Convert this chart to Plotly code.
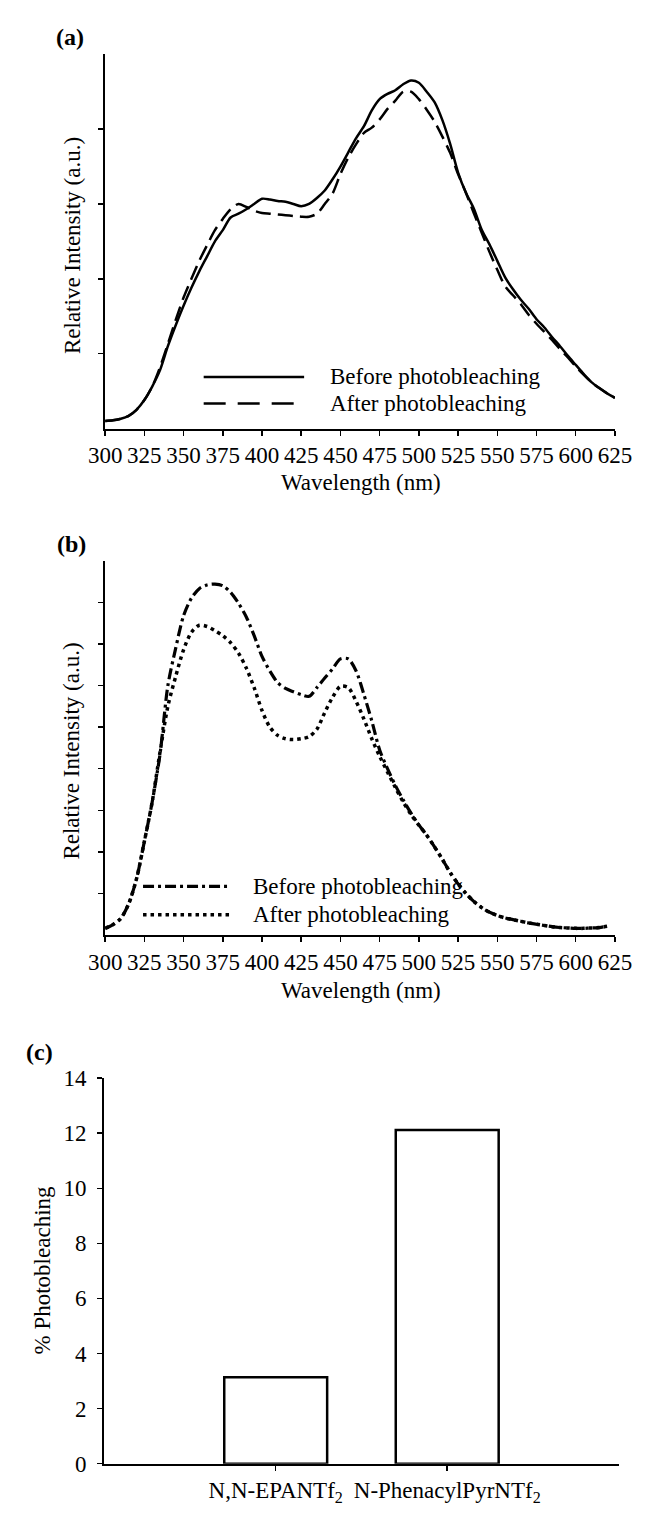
import plotly.graph_objects as go

W, H = 649, 1516
FONT = "Liberation Serif"
FS = 23

# ---------------- data ----------------
wl_a = list(range(300, 630, 5))  # 300..625
a_before = [0.10, 0.11, 0.13, 0.17, 0.25, 0.38, 0.56, 0.78, 1.10, 1.38,
            1.64, 1.88, 2.10, 2.30, 2.50, 2.65, 2.82, 2.87, 2.93, 3.00,
            3.07, 3.06, 3.04, 3.03, 3.00, 2.97, 3.00, 3.08, 3.18, 3.33,
            3.50, 3.69, 3.88, 4.04, 4.25, 4.40, 4.47, 4.52, 4.60, 4.65,
            4.62, 4.50, 4.36, 4.12, 3.80, 3.42, 3.15, 2.94, 2.66, 2.46,
            2.24, 2.02, 1.86, 1.72, 1.60, 1.46, 1.35, 1.22, 1.10, 0.97,
            0.85, 0.73, 0.62, 0.54, 0.47, 0.41]
a_after = [0.10, 0.11, 0.13, 0.17, 0.25, 0.38, 0.56, 0.82, 1.13, 1.45,
           1.75, 2.00, 2.24, 2.45, 2.65, 2.80, 2.93, 3.00, 2.96, 2.91,
           2.88, 2.87, 2.86, 2.85, 2.84, 2.83, 2.83, 2.87, 3.00, 3.14,
           3.40, 3.62, 3.80, 3.95, 4.02, 4.13, 4.27, 4.38, 4.50, 4.50,
           4.40, 4.26, 4.10, 3.90, 3.68, 3.40, 3.15, 2.88, 2.62, 2.36,
           2.12, 1.90, 1.78, 1.66, 1.52, 1.40, 1.29, 1.18, 1.06, 0.95,
           0.83, 0.72, 0.62, 0.54, 0.47, 0.41]

wl_b = list(range(300, 625, 5))  # 300..620
b_before = [0.16, 0.25, 0.40, 0.75, 1.35, 2.25, 3.20, 4.35, 6.00, 6.90,
            7.68, 8.10, 8.33, 8.42, 8.44, 8.40, 8.24, 7.98, 7.65, 7.20,
            6.70, 6.35, 6.07, 5.93, 5.85, 5.78, 5.74, 5.95, 6.18, 6.40,
            6.64, 6.64, 6.35, 5.78, 5.15, 4.45, 4.00, 3.60, 3.25, 2.93,
            2.65, 2.40, 2.12, 1.82, 1.50, 1.23, 1.00, 0.81, 0.66, 0.55,
            0.47, 0.41, 0.37, 0.33, 0.29, 0.26, 0.23, 0.20, 0.18, 0.17,
            0.16, 0.16, 0.17, 0.18, 0.21]
b_after = [0.16, 0.25, 0.40, 0.75, 1.35, 2.25, 3.20, 4.40, 5.50, 6.22,
           6.86, 7.28, 7.45, 7.42, 7.32, 7.20, 7.03, 6.78, 6.42, 5.95,
           5.40, 5.00, 4.80, 4.72, 4.70, 4.72, 4.77, 4.95, 5.35, 5.72,
           5.98, 5.95, 5.62, 5.19, 4.72, 4.30, 3.92, 3.55, 3.20, 2.90,
           2.64, 2.40, 2.12, 1.82, 1.50, 1.23, 1.00, 0.81, 0.66, 0.55,
           0.47, 0.41, 0.37, 0.33, 0.29, 0.26, 0.23, 0.20, 0.18, 0.17,
           0.16, 0.16, 0.17, 0.18, 0.21]

c_categories = ["N,N-EPANTf<sub>2</sub>", "N-PhenacylPyrNTf<sub>2</sub>"]
c_positions = [1, 2]
c_values = [3.14, 12.12]

wl_ticks = list(range(300, 650, 25))
legend_names = ["Before photobleaching", "After photobleaching"]

# ---------------- helpers ----------------
def px(x):
    return x / W

def py(y):
    return 1 - y / H

DASH_A = "15px,7px"
DASHDOT_B = "11px,4px,3px,4px"
DOT_B = "3.5px,4px"

fig = go.Figure()

fig.add_trace(go.Scatter(x=wl_a, y=a_before, mode="lines", xaxis="x", yaxis="y",
                         name=legend_names[0],
                         line=dict(color="black", width=2.5, shape="spline", smoothing=0.8),
                         showlegend=False))
fig.add_trace(go.Scatter(x=wl_a, y=a_after, mode="lines", xaxis="x", yaxis="y",
                         name=legend_names[1],
                         line=dict(color="black", width=2.5, dash=DASH_A, shape="spline", smoothing=0.8),
                         showlegend=False))
fig.add_trace(go.Scatter(x=wl_b, y=b_before, mode="lines", xaxis="x2", yaxis="y2",
                         name=legend_names[0],
                         line=dict(color="black", width=3.2, dash=DASHDOT_B, shape="spline", smoothing=0.8),
                         showlegend=False))
fig.add_trace(go.Scatter(x=wl_b, y=b_after, mode="lines", xaxis="x2", yaxis="y2",
                         name=legend_names[1],
                         line=dict(color="black", width=3.5, dash=DOT_B, shape="spline", smoothing=0.8),
                         showlegend=False))
fig.add_trace(go.Bar(x=c_positions, y=c_values, width=0.6, xaxis="x3", yaxis="y3",
                     marker=dict(color="white", line=dict(color="black", width=2.5)),
                     showlegend=False))

axis_common = dict(showline=True, linecolor="black", linewidth=2, showgrid=False,
                   zeroline=False, ticks="outside", tickcolor="black", tickwidth=1.5,
                   ticklen=5, tickfont=dict(family=FONT, size=FS, color="black"))

fig.update_layout(
    xaxis=dict(domain=[px(93), px(631)], range=[300, 625], tickvals=wl_ticks,
               anchor="y", **axis_common),
    yaxis=dict(domain=[py(423.5), py(43)], range=[0, 5], tickvals=[1, 2, 3, 4],
               showticklabels=False, anchor="x", **axis_common),
    xaxis2=dict(domain=[px(93), px(631)], range=[300, 625], tickvals=wl_ticks,
                anchor="y2", **axis_common),
    yaxis2=dict(domain=[py(938.5), py(558)], range=[0, 9], tickvals=list(range(1, 9)),
                showticklabels=False, anchor="x2", **axis_common),
    xaxis3=dict(domain=[px(92), px(635)], range=[0, 3], tickvals=c_positions,
                ticktext=c_categories, anchor="y3", **axis_common),
    yaxis3=dict(domain=[py(1476), py(1084)], range=[0, 14], tickvals=list(range(0, 16, 2)),
                anchor="x3", ticklabelstandoff=6, **axis_common),
)

annotations = []

def ann(text, x, y, angle=0, xanchor="center", bold=False, size=FS):
    f = dict(family=FONT, size=size, color="black")
    annotations.append(dict(text=("<b>%s</b>" % text) if bold else text,
                            x=px(x), y=py(y), xref="paper", yref="paper",
                            showarrow=False, textangle=angle, xanchor=xanchor,
                            yanchor="middle", font=f))

ann("(a)", 56, 25, bold=True, size=24)
ann("(b)", 58, 541, bold=True, size=24)
ann("(c)", 24, 1057, bold=True, size=24)
ann("Wavelength (nm)", 363, 478)
ann("Wavelength (nm)", 363, 995)
ann("Relative Intensity (a.u.)", 58, 237, angle=-90)
ann("Relative Intensity (a.u.)", 58, 751, angle=-90)
ann("% Photobleaching", 27, 1280, angle=-90)

# legends (drawn samples + labels)
ann(legend_names[0], 328, 371, xanchor="left")
ann(legend_names[1], 328, 398, xanchor="left")
ann(legend_names[0], 247, 889, xanchor="left")
ann(legend_names[1], 247, 918, xanchor="left")

shapes = [
    dict(type="line", xref="paper", yref="paper", x0=px(197), x1=px(303), y0=py(371), y1=py(371),
         line=dict(color="black", width=2.5)),
    dict(type="line", xref="paper", yref="paper", x0=px(197), x1=px(295), y0=py(398), y1=py(398),
         line=dict(color="black", width=2.5, dash="22px,12px")),
    dict(type="line", xref="paper", yref="paper", x0=px(133), x1=px(222), y0=py(889), y1=py(889),
         line=dict(color="black", width=3.2, dash=DASHDOT_B)),
    dict(type="line", xref="paper", yref="paper", x0=px(133), x1=px(227), y0=py(918), y1=py(918),
         line=dict(color="black", width=3.5, dash=DOT_B)),
]

fig.update_layout(
    width=W, height=H, autosize=False,
    margin=dict(l=0, r=0, t=0, b=0),
    paper_bgcolor="white", plot_bgcolor="white",
    annotations=annotations, shapes=shapes,
    font=dict(family=FONT, color="black"),
)

fig.write_html("out.html",
               config={"displayModeBar": False, "staticPlot": True},
               post_script="document.body.style.margin='0px';document.body.style.overflow='hidden';")
